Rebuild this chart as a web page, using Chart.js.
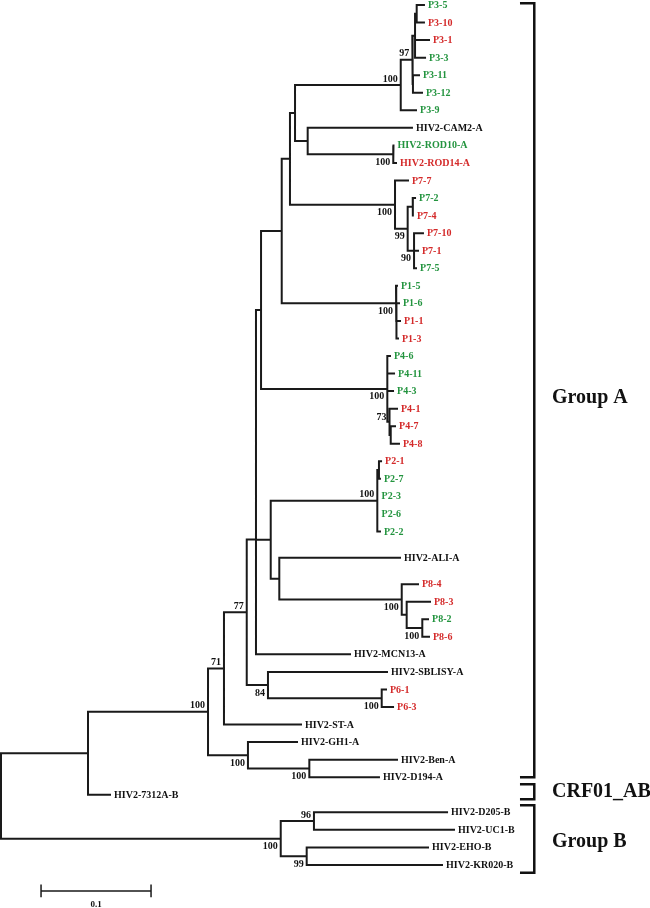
<!DOCTYPE html>
<html>
<head>
<meta charset="utf-8">
<title>HIV-2 tree</title>
<script src="https://cdn.jsdelivr.net/npm/chart.js@4.4.0/dist/chart.umd.min.js"></script>
<style>
  body { margin: 0; background: #fff; }
  #wrap { width: 650px; height: 908px; }
</style>
</head>
<body>
<div id="wrap"><canvas id="tree" width="650" height="908"></canvas></div>
<script>
// hojas, de arriba hacia abajo
const leafNames = [
  'P3-5', 'P3-10', 'P3-1', 'P3-3', 'P3-11', 'P3-12', 'P3-9',
  'HIV2-CAM2-A', 'HIV2-ROD10-A', 'HIV2-ROD14-A',
  'P7-7', 'P7-2', 'P7-4', 'P7-10', 'P7-1', 'P7-5',
  'P1-5', 'P1-6', 'P1-1', 'P1-3',
  'P4-6', 'P4-11', 'P4-3', 'P4-1', 'P4-7', 'P4-8',
  'P2-1', 'P2-7', 'P2-3', 'P2-6', 'P2-2',
  'HIV2-ALI-A', 'P8-4', 'P8-3', 'P8-2', 'P8-6',
  'HIV2-MCN13-A', 'HIV2-SBLISY-A', 'P6-1', 'P6-3',
  'HIV2-ST-A', 'HIV2-GH1-A', 'HIV2-Ben-A', 'HIV2-D194-A',
  'HIV2-7312A-B', 'HIV2-D205-B', 'HIV2-UC1-B', 'HIV2-EHO-B', 'HIV2-KR020-B'
];
// g = verde, r = rojo, k = referencia
const leafType = [
  'g', 'r', 'r', 'g', 'g', 'g', 'g',
  'k', 'g', 'r',
  'r', 'g', 'r', 'r', 'r', 'g',
  'g', 'g', 'r', 'r',
  'g', 'g', 'g', 'r', 'r', 'r',
  'r', 'g', 'g', 'g', 'g',
  'k', 'r', 'r', 'g', 'r',
  'k', 'k', 'r', 'r',
  'k', 'k', 'k', 'k',
  'k', 'k', 'k', 'k', 'k'
];
// fila de cada hoja (hay un hueco alrededor de ALI)
const leafRow = [
  0, 1, 2, 3, 4, 5, 6,
  7, 8, 9,
  10, 11, 12, 13, 14, 15,
  16, 17, 18, 19,
  20, 21, 22, 23, 24, 25,
  26, 27, 28, 29, 30,
  31.5, 33, 34, 35, 36,
  37, 38, 39, 40,
  41, 42, 43, 44,
  45, 46, 47, 48, 49
];
// distancia desde la raiz (sustituciones/sitio)
const leafDist = [
  0.3845, 0.3845, 0.3891, 0.3855, 0.3800, 0.3827, 0.3773,
  0.3736, 0.3568, 0.3591,
  0.3700, 0.3764, 0.3745, 0.3836, 0.3791, 0.3773,
  0.3600, 0.3618, 0.3627, 0.3609,
  0.3536, 0.3573, 0.3564, 0.3600, 0.3582, 0.3618,
  0.3455, 0.3445, 0.3423, 0.3423, 0.3445,
  0.3627, 0.3791, 0.3900, 0.3882, 0.3891,
  0.3173, 0.3509, 0.3500, 0.3564,
  0.2727, 0.2691, 0.3600, 0.3436,
  0.0991, 0.4055, 0.4118, 0.3882, 0.4009
];

// nodos internos
const nodeIds = [
  'root', 'top', 'n208', 'n71', 'n77', 'nB', 'nA', 'n261', 'n281', 'n290', 'n295',
  'p3', 'n97', 's1', 's1a', 's2', 'camrod', 'rod',
  'p7', 'n99', 'p7a', 'n90', 'p1', 'p1b', 'p4', 'n73', 'p4b',
  'n270', 'p2', 'p2a', 'alip8', 'p8', 'p8s', 'p8b',
  'n84', 'p6', 'gh1c', 'bend', 'grpB', 'd205uc1', 'ehokr'
];
const nodeDist = [
  0, 0.0791, 0.1882, 0.2027, 0.2234, 0.2318, 0.2318, 0.2364, 0.2552, 0.2627, 0.2673,
  0.3634, 0.3739, 0.3764, 0.3779, 0.3745, 0.2788, 0.3566,
  0.3582, 0.3697, 0.3743, 0.3755, 0.3591, 0.3595, 0.3512, 0.3532, 0.3543,
  0.2452, 0.3421, 0.3436, 0.2530, 0.3643, 0.3688, 0.3830,
  0.2427, 0.3461, 0.2245, 0.2803, 0.2543, 0.2845, 0.2779
];
const nodeChildren = [
  ['top', 'grpB'], ['n208', 'HIV2-7312A-B'], ['n71', 'gh1c'], ['n77', 'HIV2-ST-A'],
  ['nB', 'n84'], ['nA', 'HIV2-MCN13-A'], ['n261', 'n270'], ['n281', 'p4'],
  ['n290', 'p1'], ['n295', 'p7'], ['p3', 'camrod'],
  ['n97', 'P3-9'], ['s1', 's2'], ['s1a', 'P3-1', 'P3-3'], ['P3-5', 'P3-10'], ['P3-11', 'P3-12'],
  ['HIV2-CAM2-A', 'rod'], ['HIV2-ROD10-A', 'HIV2-ROD14-A'],
  ['P7-7', 'n99'], ['p7a', 'n90'], ['P7-2', 'P7-4'], ['P7-10', 'P7-1', 'P7-5'],
  ['P1-5', 'p1b'], ['P1-6', 'P1-1', 'P1-3'],
  ['P4-6', 'P4-11', 'P4-3', 'n73'], ['P4-1', 'p4b'], ['P4-7', 'P4-8'],
  ['p2', 'alip8'], ['p2a', 'P2-3', 'P2-6', 'P2-2'], ['P2-1', 'P2-7'],
  ['HIV2-ALI-A', 'p8'], ['P8-4', 'p8s'], ['P8-3', 'p8b'], ['P8-2', 'P8-6'],
  ['HIV2-SBLISY-A', 'p6'], ['P6-1', 'P6-3'],
  ['HIV2-GH1-A', 'bend'], ['HIV2-Ben-A', 'HIV2-D194-A'],
  ['d205uc1', 'ehokr'], ['HIV2-D205-B', 'HIV2-UC1-B'], ['HIV2-EHO-B', 'HIV2-KR020-B']
];
// bootstrap
const nodeSupport = [
  null, null, 100, 71, 77, null, null, null, null, null, null,
  100, 97, null, null, null, null, 100,
  100, 99, null, 90, 100, null, 100, 73, null,
  null, 100, null, null, 100, null, 100,
  84, 100, 100, 100, 100, 96, 99
];

const groupNames = ['Group A', 'CRF01_AB', 'Group B'];
const groupFrom = [-0.1, 44.4, 45.6];
const groupTo = [44, 45.25, 49.45];

const scaleBarValue = 0.1;

// ---- estilo / ubicacion ----
const typeColor = { g: '#23943f', r: '#d42a2a', k: '#111111' };
const lineColor = '#1a1a1a';
const serif = '"Liberation Serif", "Times New Roman", serif';
// donde va el numero de bootstrap respecto al nodo
const supportSide = {
  n208: 'above', n71: 'above', n77: 'above', p3: 'above', n97: 'above', p2: 'above', d205uc1: 'above',
  n73: 'mid'
};
const groupLabelRow = [22.4, 44.85, 47.7];
const bracketX0 = 0.4718, bracketX1 = 0.4848, groupLabelX = 0.5009;
const scaleBarX = 0.0364, scaleBarRow = 50.48;

// posiciones de cada nodo (y = punto medio entre primer y ultimo hijo)
const pos = {};
leafNames.forEach((n, i) => { pos[n] = { x: leafDist[i], y: leafRow[i] }; });
function place(id) {
  if (pos[id]) return pos[id];
  const k = nodeIds.indexOf(id);
  const kids = nodeChildren[k].map(place);
  pos[id] = { x: nodeDist[k], y: (kids[0].y + kids[kids.length - 1].y) / 2, kids: kids };
  return pos[id];
}
place('root');

const branchPts = [];
const gap = () => ({ x: null, y: null });
nodeIds.forEach(id => {
  const p = pos[id];
  const kids = p.kids;
  const a = kids[0], b = kids[kids.length - 1];
  branchPts.push({ x: a.x, y: a.y }, { x: p.x, y: a.y }, { x: p.x, y: b.y }, { x: b.x, y: b.y }, gap());
  kids.slice(1, -1).forEach(c => {
    branchPts.push({ x: p.x, y: c.y }, { x: c.x, y: c.y }, gap());
  });
});

const tickH = 0.36;
const scalePts = [
  { x: scaleBarX, y: scaleBarRow }, { x: scaleBarX + scaleBarValue, y: scaleBarRow }, gap(),
  { x: scaleBarX, y: scaleBarRow - tickH }, { x: scaleBarX, y: scaleBarRow + tickH }, gap(),
  { x: scaleBarX + scaleBarValue, y: scaleBarRow - tickH }, { x: scaleBarX + scaleBarValue, y: scaleBarRow + tickH }
];

// textos: nombres, bootstrap, corchetes de grupo y escala
const treeText = {
  id: 'treeText',
  afterDatasetsDraw(chart) {
    const { ctx, scales: { x, y } } = chart;
    ctx.save();
    ctx.font = 'bold 10px ' + serif;
    ctx.textAlign = 'left';
    ctx.textBaseline = 'middle';
    leafNames.forEach((n, i) => {
      ctx.fillStyle = typeColor[leafType[i]];
      ctx.fillText(n, x.getPixelForValue(leafDist[i]) + 4, y.getPixelForValue(leafRow[i]) + 0.5);
    });

    ctx.fillStyle = '#111';
    ctx.textAlign = 'right';
    nodeIds.forEach((id, k) => {
      if (nodeSupport[k] == null) return;
      const px = x.getPixelForValue(pos[id].x) - 3;
      const py = y.getPixelForValue(pos[id].y);
      const side = supportSide[id] || 'below';
      if (side === 'above') { ctx.textBaseline = 'bottom'; ctx.fillText(nodeSupport[k], px, py - 1); }
      else if (side === 'mid') { ctx.textBaseline = 'middle'; ctx.fillText(nodeSupport[k], px, py - 4); }
      else { ctx.textBaseline = 'top'; ctx.fillText(nodeSupport[k], px, py + 3); }
    });

    ctx.strokeStyle = '#111';
    ctx.lineWidth = 2.5;
    ctx.lineJoin = 'miter';
    const bx0 = x.getPixelForValue(bracketX0), bx1 = x.getPixelForValue(bracketX1);
    groupNames.forEach((g, i) => {
      const t = y.getPixelForValue(groupFrom[i]), b = y.getPixelForValue(groupTo[i]);
      ctx.beginPath();
      ctx.moveTo(bx0, t); ctx.lineTo(bx1, t); ctx.lineTo(bx1, b); ctx.lineTo(bx0, b);
      ctx.stroke();
    });
    ctx.font = 'bold 20px ' + serif;
    ctx.textAlign = 'left';
    ctx.textBaseline = 'middle';
    groupNames.forEach((g, i) => {
      ctx.fillText(g, x.getPixelForValue(groupLabelX), y.getPixelForValue(groupLabelRow[i]));
    });

    ctx.font = 'bold 9px ' + serif;
    ctx.textAlign = 'center';
    ctx.textBaseline = 'top';
    ctx.fillText(String(scaleBarValue), x.getPixelForValue(scaleBarX + scaleBarValue / 2), y.getPixelForValue(scaleBarRow) + 9);
    ctx.restore();
  }
};

new Chart(document.getElementById('tree'), {
  type: 'scatter',
  data: {
    datasets: [
      { data: branchPts, showLine: true, spanGaps: false, borderColor: lineColor, borderWidth: 2,
        borderCapStyle: 'square', borderJoinStyle: 'miter', pointRadius: 0, tension: 0 },
      { data: scalePts, showLine: true, spanGaps: false, borderColor: lineColor, borderWidth: 1.5,
        borderCapStyle: 'butt', pointRadius: 0, tension: 0 }
    ]
  },
  options: {
    responsive: false,
    animation: false,
    events: [],
    layout: { padding: 0 },
    plugins: { legend: { display: false }, tooltip: { enabled: false } },
    scales: {
      x: { type: 'linear', display: false, min: -1 / 1100, max: 649 / 1100 },
      y: { type: 'linear', display: false, reverse: true, min: -5 / 17.55, max: -5 / 17.55 + 908 / 17.55 }
    }
  },
  plugins: [treeText]
});
</script>
</body>
</html>
